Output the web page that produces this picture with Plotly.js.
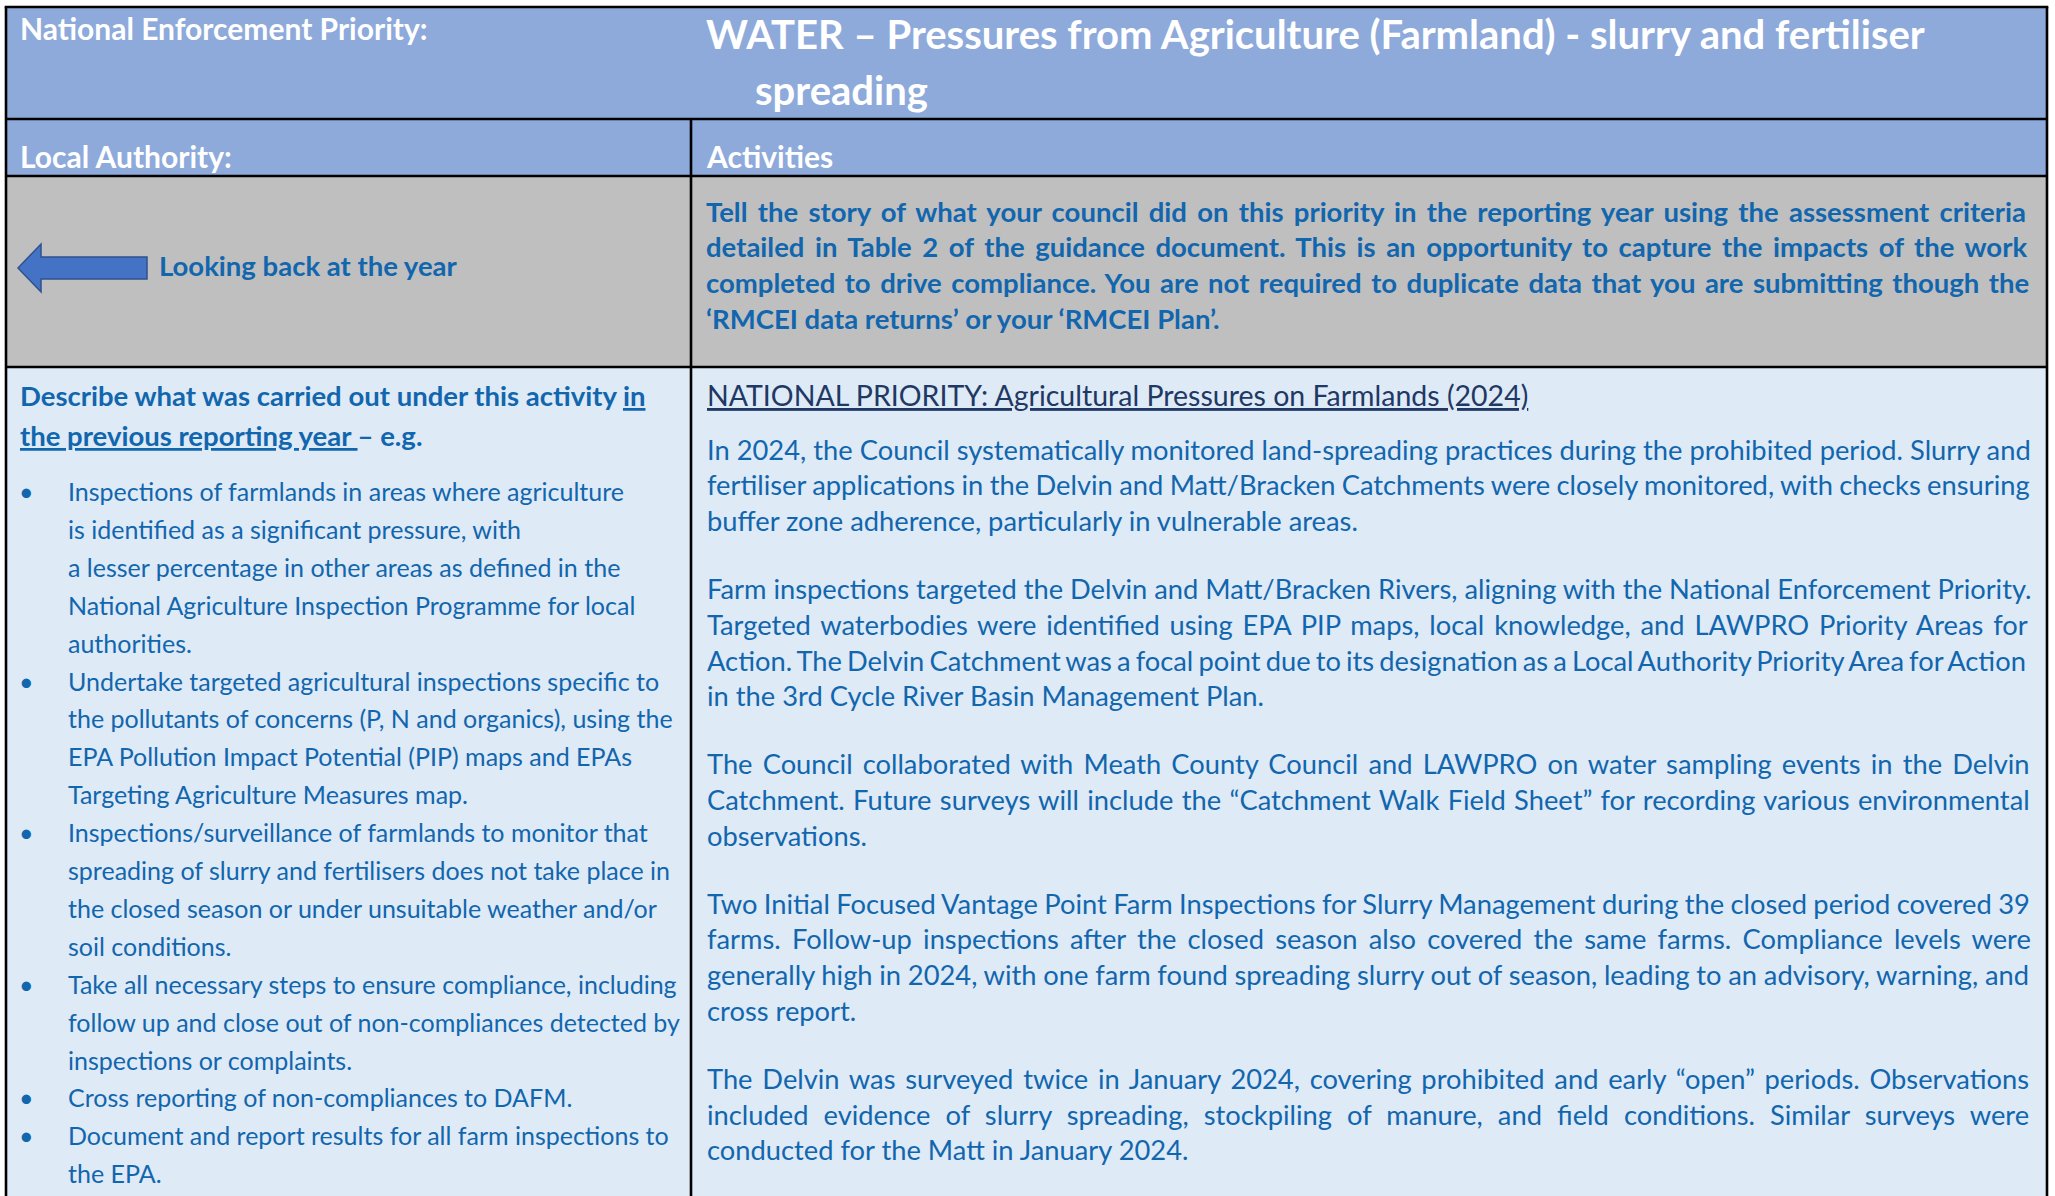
<!DOCTYPE html>
<html><head><meta charset="utf-8">
<script src="https://cdn.plot.ly/plotly-3.0.1.min.js"></script>
<style>html,body{margin:0;padding:0;background:#ffffff;}</style>
</head><body><div id="chart" style="width:2055px;height:1196px;"></div>
<script>
// ---------------- content ----------------
const priorityLabel = "National Enforcement Priority:";
const titleLines = ["WATER – Pressures from Agriculture (Farmland) - slurry and fertiliser", "spreading"];
const rowLabels = ["Local Authority:", "Activities"];
const lookBackLabel = "Looking back at the year";
const guidanceLines = [
  "Tell the story of what your council did on this priority in the reporting year using the assessment criteria",
  "detailed in Table 2 of the guidance document. This is an opportunity to capture the impacts of the work",
  "completed to drive compliance. You are not required to duplicate data that you are submitting though the",
  "‘RMCEI data returns’ or your ‘RMCEI Plan’."
];
const describeLines = [
  "Describe what was carried out under this activity <u>in</u>",
  "<u>the previous reporting year </u>– e.g."
];
const bulletItems = [
  ["Inspections of farmlands in areas where agriculture", "is identified as a significant pressure, with", "a lesser percentage in other areas as defined in the", "National Agriculture Inspection Programme for local", "authorities."],
  ["Undertake targeted agricultural inspections specific to", "the pollutants of concerns (P, N and organics), using the", "EPA Pollution Impact Potential (PIP) maps and EPAs", "Targeting Agriculture Measures map."],
  ["Inspections/surveillance of farmlands to monitor that", "spreading of slurry and fertilisers does not take place in", "the closed season or under unsuitable weather and/or", "soil conditions."],
  ["Take all necessary steps to ensure compliance, including", "follow up and close out of non-compliances detected by", "inspections or complaints."],
  ["Cross reporting of non-compliances to DAFM."],
  ["Document and report results for all farm inspections to", "the EPA."]
];
const sectionHeading = "NATIONAL PRIORITY: Agricultural Pressures on Farmlands (2024)";
const paragraphs = [
  ["In 2024, the Council systematically monitored land-spreading practices during the prohibited period. Slurry and",
   "fertiliser applications in the Delvin and Matt/Bracken Catchments were closely monitored, with checks ensuring",
   "buffer zone adherence, particularly in vulnerable areas."],
  ["Farm inspections targeted the Delvin and Matt/Bracken Rivers, aligning with the National Enforcement Priority.",
   "Targeted waterbodies were identified using EPA PIP maps, local knowledge, and LAWPRO Priority Areas for",
   "Action. The Delvin Catchment was a focal point due to its designation as a Local Authority Priority Area for Action",
   "in the 3rd Cycle River Basin Management Plan."],
  ["The Council collaborated with Meath County Council and LAWPRO on water sampling events in the Delvin",
   "Catchment. Future surveys will include the “Catchment Walk Field Sheet” for recording various environmental",
   "observations."],
  ["Two Initial Focused Vantage Point Farm Inspections for Slurry Management during the closed period covered 39",
   "farms. Follow-up inspections after the closed season also covered the same farms. Compliance levels were",
   "generally high in 2024, with one farm found spreading slurry out of season, leading to an advisory, warning, and",
   "cross report."],
  ["The Delvin was surveyed twice in January 2024, covering prohibited and early “open” periods. Observations",
   "included evidence of slurry spreading, stockpiling of manure, and field conditions. Similar surveys were",
   "conducted for the Matt in January 2024."]
];

// ---------------- styling / geometry ----------------
const W = 2055, H = 1196;
const FONT = "Lato";
const BLUE_TXT = "#1166AE";
const NAVY = "#1F3864";
const HDR = "#8EAADB", GRAY = "#BFBFBF", LIGHT = "#DEEAF6";
const XL = 6, XC = 691, XR = 2047;
const Y0 = 7, Y1 = 119, Y2 = 176, Y3 = 367, YB = 1200;

const SZ = {hdr: 30, title: 40, body: 27.3, heading: 28.5, bold: 27.5, left: 25, lefthead: 27.5};

const canvas = document.createElement('canvas');
const ctx = canvas.getContext('2d');
function measure(txt, size, bold) {
  ctx.font = (bold ? '700 ' : '400 ') + size + 'px ' + FONT;
  return ctx.measureText(txt.replace(/<[^>]+>/g, '')).width;
}
function justify(txt, size, bold, width) {
  const plain = txt.replace(/<[^>]+>/g, '');
  const spaces = (plain.match(/ /g) || []).length;
  if (!spaces) return txt;
  const ws = (width - measure(plain, size, bold)) / spaces;
  return '<span style="word-spacing:' + ws.toFixed(2) + 'px">' + txt + '</span>';
}

const ann = [];
function addText(text, x, y, size, color, bold, anchor) {
  ann.push({text: text, x: x, y: y, xref: 'x', yref: 'y', xanchor: anchor || 'left', yanchor: 'middle',
    showarrow: false, borderpad: 0,
    font: {family: FONT, size: size, color: color, weight: bold ? 700 : 400}});
}

// header rows
addText(priorityLabel, 19, 28, SZ.hdr, '#ffffff', true);
addText(titleLines[0], 705, 34, SZ.title, '#ffffff', true);
addText(titleLines[1], 754, 90, SZ.title, '#ffffff', true);
addText(rowLabels[0], 19, 156, SZ.hdr, '#ffffff', true);
addText(rowLabels[1], 705, 156, SZ.hdr, '#ffffff', true);

// gray row
addText(lookBackLabel, 158, 265, SZ.bold, BLUE_TXT, true);
const JW = 2031 - 706;
guidanceLines.forEach((l, i) => {
  const t = i < guidanceLines.length - 1 ? justify(l, SZ.bold, true, JW) : l;
  addText(t, 705, 211 + i * 35.8, SZ.bold, BLUE_TXT, true);
});

// left column
describeLines.forEach((l, i) => addText(l, 19, 395 + i * 40.5, SZ.lefthead, BLUE_TXT, true));
let ly = 491;
const LP = 37.9;
bulletItems.forEach(item => {
  addText('•', 26, ly, SZ.left, BLUE_TXT, false, 'center');
  item.forEach(l => { addText(l, 67, ly, SZ.left, BLUE_TXT, false); ly += LP; });
});

// right column
addText('<u>' + sectionHeading + '</u>', 706, 395, SZ.heading, NAVY, false);
let ry = 449;
paragraphs.forEach(p => {
  p.forEach((l, i) => {
    const t = i < p.length - 1 ? justify(l, SZ.body, false, JW) : l;
    addText(t, 706, ry, SZ.body, BLUE_TXT, false);
    ry += 35.8;
  });
  ry += 32;
});

// shapes: cell fills, borders, arrow
const shapes = [];
function rect(x0, y0, x1, y1, fill) {
  shapes.push({type: 'rect', xref: 'x', yref: 'y', x0: x0, y0: y0, x1: x1, y1: y1, fillcolor: fill, line: {width: 0}, layer: 'below'});
}
function line(x0, y0, x1, y1) {
  shapes.push({type: 'line', xref: 'x', yref: 'y', x0: x0, y0: y0, x1: x1, y1: y1, line: {color: '#000000', width: 2.6}});
}
rect(XL, Y0, XR, Y2, HDR);
rect(XL, Y2, XR, Y3, GRAY);
rect(XL, Y3, XR, YB, LIGHT);
line(XL - 1.3, Y0, XR + 1.3, Y0);
line(XL, Y1, XR, Y1);
line(XL, Y2, XR, Y2);
line(XL, Y3, XR, Y3);
line(XL, Y0, XL, YB);
line(XR, Y0, XR, YB);
line(XC, Y1, XC, YB);
shapes.push({type: 'path', xref: 'x', yref: 'y',
  path: 'M 18 268 L 41 244 L 41 257 L 147 257 L 147 279 L 41 279 L 41 292 Z',
  fillcolor: '#4472C4', line: {color: '#2F528F', width: 1.5}});

const layout = {
  width: W, height: H,
  margin: {l: 0, r: 0, t: 0, b: 0, pad: 0},
  paper_bgcolor: '#ffffff', plot_bgcolor: 'rgba(0,0,0,0)',
  showlegend: false,
  xaxis: {range: [0, W], visible: false, fixedrange: true},
  yaxis: {range: [H, 0], visible: false, fixedrange: true},
  shapes: shapes,
  annotations: ann
};
Plotly.newPlot('chart', [{type: 'scatter', x: [], y: [], hoverinfo: 'skip'}], layout, {staticPlot: true, displayModeBar: false});
</script>
</body></html>
